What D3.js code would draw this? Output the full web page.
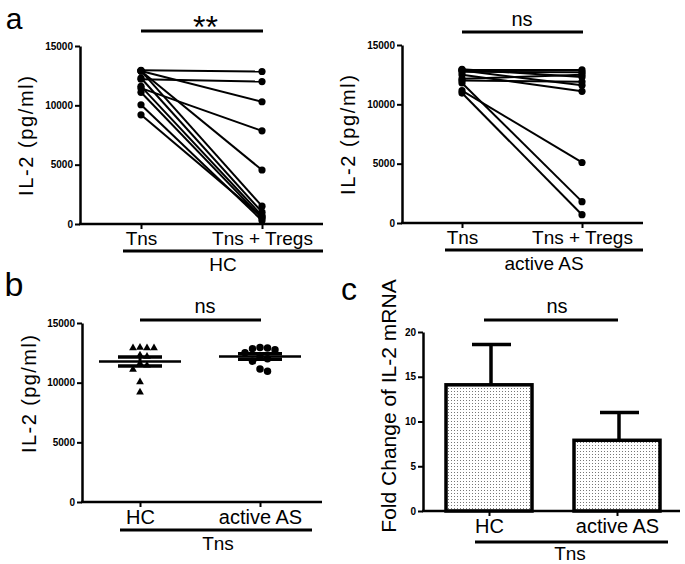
<!DOCTYPE html>
<html>
<head>
<meta charset="utf-8">
<script src="https://cdn.jsdelivr.net/npm/d3@7"></script>
<style>
  body { margin: 0; background: #fff; }
  svg text { font-family: "Liberation Sans", Arial, sans-serif; fill: #000; }
</style>
</head>
<body>
<svg width="685" height="564"></svg>
<script>
// ---- data ----
const pairGroups = ["Tns", "Tns + Tregs"];
const hcTns   = [12950, 12200, 12900, 11450, 12900, 12900, 12300, 11600, 11100, 10050, 9200];
const hcTregs = [12850, 12000, 10300, 7850, 4550, 1500, 1000, 700, 500, 300, 600];
const asTns   = [12950, 12900, 12850, 12750, 12500, 12150, 12000, 11800, 11150, 10950];
const asTregs = [12300, 12900, 11600, 12700, 11100, 12500, 11900, 1800, 5100, 700];

const tnsGroups = ["HC", "active AS"];
const foldMean = [14.1, 7.9];
const foldSem  = [4.5, 3.1];

const il2Ticks  = [0, 5000, 10000, 15000];
const foldTicks = [0, 5, 10, 15, 20];

const svg = d3.select("svg");

// dotted fill used by the bars in panel c
const pat = svg.append("defs").append("pattern")
  .attr("id", "dots").attr("patternUnits", "userSpaceOnUse")
  .attr("width", 3).attr("height", 3);
pat.append("rect").attr("width", 3).attr("height", 3).attr("fill", "#fff");
pat.append("rect").attr("x", 1).attr("y", 1).attr("width", 1).attr("height", 1).attr("fill", "#777");

function yAxis(x0, y, ticks) {
  const g = svg.append("g")
    .attr("transform", `translate(${x0},0)`)
    .call(d3.axisLeft(y).tickValues(ticks).tickSize(5).tickSizeOuter(0).tickPadding(2).tickFormat(d3.format("d")));
  g.select(".domain").attr("stroke-width", 2.5);
  g.selectAll(".tick line").attr("stroke-width", 2);
  g.selectAll(".tick text").style("font-size", "10px").style("font-weight", "bold").attr("fill", "#000");
}

function xAxis(y0, x, x0, x1, fontSize) {
  svg.append("line").attr("x1", x0 - 1).attr("x2", x1).attr("y1", y0).attr("y2", y0)
    .attr("stroke", "#000").attr("stroke-width", 2.5);
  const g = svg.append("g")
    .attr("transform", `translate(0,${y0})`)
    .call(d3.axisBottom(x).tickSize(5).tickPadding(3));
  g.select(".domain").remove();
  g.selectAll(".tick line").attr("stroke-width", 2);
  g.selectAll(".tick text").style("font-size", fontSize + "px").attr("fill", "#000");
}

function yLabel(text, bx, cy, size, len) {
  const t = svg.append("text")
    .attr("transform", `translate(${bx},${cy}) rotate(-90)`)
    .attr("text-anchor", "middle").style("font-size", size + "px").text(text);
  if (len) t.attr("textLength", len).attr("lengthAdjust", "spacing");
}

function hbar(x1, x2, y, w) {
  svg.append("line").attr("x1", x1).attr("x2", x2).attr("y1", y).attr("y2", y)
    .attr("stroke", "#000").attr("stroke-width", w || 3);
}

function label(text, x, y, size) {
  return svg.append("text").attr("x", x).attr("y", y)
    .attr("text-anchor", "middle").style("font-size", size + "px").text(text);
}

// ---- panel a: paired before/after plots ----
function pairedPanel(c, tns, tregs) {
  const y = d3.scaleLinear().domain([0, 15000]).range([c.yBottom, c.yTop]);
  const x = d3.scalePoint().domain(pairGroups).range([c.xa, c.xb]);
  yAxis(c.axisX, y, il2Ticks);
  xAxis(c.yBottom, x, c.axisX, c.axisEnd, 19);

  const line = d3.line().x((d, j) => x(pairGroups[j])).y(d => y(d));
  const pairs = tns.map((v, i) => [v, tregs[i]]);
  svg.append("g").selectAll("path").data(pairs).join("path")
    .attr("d", line).attr("fill", "none").attr("stroke", "#000").attr("stroke-width", 2);
  pairs.forEach(p => {
    svg.append("g").selectAll("circle").data(p).join("circle")
      .attr("cx", (d, j) => x(pairGroups[j])).attr("cy", d => y(d)).attr("r", 3.6);
  });

  hbar(c.xa, c.xb + 1, c.sigY, 3);
  label(c.sig, (c.xa + c.xb) / 2 + c.sigDx, c.sigY - c.sigGap, c.sigSize);
  hbar(c.ulX, c.axisEnd, c.yBottom + 27, 3);
  label(c.group, (c.ulX + c.axisEnd) / 2, c.yBottom + 47, 19);
  yLabel("IL-2 (pg/ml)", c.labX, (c.yBottom + c.yTop) / 2 + 1, 20, 120);
}

pairedPanel({ axisX: 80, axisEnd: 323, yBottom: 224, yTop: 46, xa: 141, xb: 262,
  sigY: 31, sig: "**", sigSize: 32, sigDx: 4, sigGap: -7, ulX: 123, group: "HC", labX: 33 }, hcTns, hcTregs);
pairedPanel({ axisX: 402, axisEnd: 643, yBottom: 223, yTop: 45, xa: 462, xb: 582,
  sigY: 32, sig: "ns", sigSize: 20, sigDx: 0, sigGap: 6, ulX: 445, group: "active AS", labX: 355 }, asTns, asTregs);

// ---- panel b: scatter with mean +/- SEM ----
(function () {
  const y = d3.scaleLinear().domain([0, 15000]).range([502, 323]);
  const x = d3.scalePoint().domain(tnsGroups).range([140, 260]);
  yAxis(82, y, il2Ticks);
  xAxis(502, x, 82, 322, 20);

  const sets = [hcTns, asTns];
  const shapes = [d3.symbolTriangle, d3.symbolCircle];
  const sizes = [26, 44];
  const gap = [7, 7.5];

  sets.forEach((vals, k) => {
    const cx = x(tnsGroups[k]);
    // simple beeswarm so equal values sit side by side
    const placed = [];
    vals.slice().sort((a, b) => b - a).forEach(v => {
      const py = y(v);
      for (let s = 0; s < 20; s++) {
        const off = (s % 2 ? 1 : -1) * Math.ceil(s / 2) * gap[k];
        const px = cx + off;
        if (placed.every(p => Math.hypot(p[0] - px, p[1] - py) >= gap[k] - 0.5)) { placed.push([px, py]); break; }
      }
    });
    svg.append("g").selectAll("path").data(placed).join("path")
      .attr("transform", d => `translate(${d[0]},${d[1]})`)
      .attr("d", d3.symbol(shapes[k], sizes[k]));

    const m = d3.mean(vals);
    const sem = d3.deviation(vals) / Math.sqrt(vals.length);
    hbar(cx - 41, cx + 41, y(m), 2.5);
    hbar(cx - 22, cx + 22, y(m + sem), 3.5);
    hbar(cx - 22, cx + 22, y(m - sem), 3.5);
    svg.append("line").attr("x1", cx).attr("x2", cx).attr("y1", y(m + sem)).attr("y2", y(m - sem))
      .attr("stroke", "#000").attr("stroke-width", 3);
  });

  hbar(140, 261, 320, 3);
  label("ns", 205, 313, 20);
  hbar(120, 312, 530, 3);
  label("Tns", 218, 550, 19);
  yLabel("IL-2 (pg/ml)", 36, 394, 20, 118);
})();

// ---- panel c: bar chart of fold change ----
(function () {
  const y = d3.scaleLinear().domain([0, 20]).range([511, 332]);
  const x = d3.scalePoint().domain(tnsGroups).range([489, 617]);
  const bw = 86;
  yAxis(423, y, foldTicks);

  svg.append("g").selectAll("line").data(foldMean).join("line")
    .attr("x1", (d, i) => x(tnsGroups[i]) + 2).attr("x2", (d, i) => x(tnsGroups[i]) + 2)
    .attr("y1", d => y(d)).attr("y2", (d, i) => y(d + foldSem[i]))
    .attr("stroke", "#000").attr("stroke-width", 3.5);
  svg.append("g").selectAll("line").data(foldMean).join("line")
    .attr("x1", (d, i) => x(tnsGroups[i]) - 17).attr("x2", (d, i) => x(tnsGroups[i]) + 22)
    .attr("y1", (d, i) => y(d + foldSem[i])).attr("y2", (d, i) => y(d + foldSem[i]))
    .attr("stroke", "#000").attr("stroke-width", 3.5);
  svg.append("g").selectAll("rect").data(foldMean).join("rect")
    .attr("x", (d, i) => x(tnsGroups[i]) - bw / 2).attr("width", bw)
    .attr("y", d => y(d)).attr("height", d => y(0) - y(d))
    .attr("fill", "url(#dots)").attr("stroke", "#000").attr("stroke-width", 3.5);

  xAxis(511, x, 423, 680, 20);

  hbar(484, 618, 320, 3);
  label("ns", 557, 313, 20);
  hbar(475, 668, 542, 3);
  label("Tns", 570, 560, 19);
  yLabel("Fold Change of IL-2 mRNA", 396, 406, 21);
})();

// panel letters
label("a", 14, 29, 30);
label("b", 14, 296, 34);
label("c", 349, 300, 32);
</script>
</body>
</html>
